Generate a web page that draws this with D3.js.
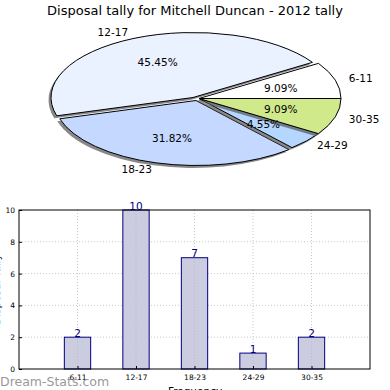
<!DOCTYPE html>
<html><head><meta charset="utf-8">
<script src="https://cdn.jsdelivr.net/npm/d3@7"></script>
<style>
body{margin:0;background:#fff;}
svg{display:block;font-family:"DejaVu Sans",sans-serif;}
</style></head>
<body><svg id="c" width="390" height="390"></svg>
<script>
const title = "Disposal tally for Mitchell Duncan - 2012 tally";
const categories = ["6-11","12-17","18-23","24-29","30-35"];
const tally = [2,10,7,1,2];
const sliceColors = ["#ffffff","#eaf1ff","#c5d8ff","#b5d6ff","#d0e98b"];
const yTicks = [0,2,4,6,8,10];

const svg = d3.select("#c");

// ---- Pie (elliptical, matplotlib style) ----
const P = {cx:199, cy:98.5, rx:142, ry:65};
const explode = [[0,0],[-6,-1],[-3,2],[0,0],[0,0]];
const shadow = [-2.5,2.5];
const total = d3.sum(tally);
const arcs = d3.pie().sort(null).startAngle(0).endAngle(2*Math.PI)(tally);

function wedge(a, dx, dy){
  const t1=a.startAngle, t2=a.endAngle;
  const cx=P.cx+dx, cy=P.cy+dy;
  const x1=cx+P.rx*Math.cos(t1), y1=cy-P.ry*Math.sin(t1);
  const x2=cx+P.rx*Math.cos(t2), y2=cy-P.ry*Math.sin(t2);
  const large=(t2-t1)>Math.PI?1:0;
  return `M${cx},${cy}L${x1},${y1}A${P.rx},${P.ry} 0 ${large} 0 ${x2},${y2}Z`;
}
const pg = svg.append("g");
arcs.forEach((a,i)=>{
  const [ex,ey]=explode[i];
  pg.append("path").attr("d",wedge(a,ex+shadow[0],ey+shadow[1]))
    .attr("fill","#555").attr("opacity",0.7);
  pg.append("path").attr("d",wedge(a,ex,ey))
    .attr("fill",sliceColors[i]).attr("stroke","#000").attr("stroke-width",1)
    .attr("stroke-linejoin","round");
});
arcs.forEach((a,i)=>{
  const [ex,ey]=explode[i];
  const m=(a.startAngle+a.endAngle)/2;
  const c=Math.cos(m), s=Math.sin(m);
  pg.append("text").attr("x",P.cx+ex+0.6*P.rx*c).attr("y",P.cy+ey-0.6*P.ry*s)
    .attr("text-anchor","middle").attr("dominant-baseline","central")
    .attr("font-size",10.5).attr("fill","#000")
    .text((100*tally[i]/total).toFixed(2)+"%");
  pg.append("text").attr("x",P.cx+ex+1.1*P.rx*c).attr("y",P.cy+ey-1.1*P.ry*s)
    .attr("text-anchor",c>0?"start":"end").attr("dominant-baseline","central")
    .attr("font-size",10.5).attr("fill","#000")
    .text(categories[i]);
});
svg.append("text").attr("x",195).attr("y",10).attr("text-anchor","middle")
  .attr("dominant-baseline","central").attr("font-size",13).text(title);

// ---- Bar chart ----
const B = {l:19, r:370, t:210, b:369};
const x = d3.scaleLinear().domain([0,6]).range([B.l,B.r]);
const y = d3.scaleLinear().domain([0,10]).range([B.b,B.t]);
const bw = 0.45;
const bg = svg.append("g");
// grid
bg.append("g").selectAll("line").data(yTicks.slice(1,-1)).join("line")
  .attr("x1",B.l).attr("x2",B.r).attr("y1",d=>y(d)).attr("y2",d=>y(d))
  .attr("stroke","#c8c8c8").attr("stroke-dasharray","1,2");
bg.append("g").selectAll("line").data(categories).join("line")
  .attr("x1",(d,i)=>x(i+1)).attr("x2",(d,i)=>x(i+1)).attr("y1",B.t).attr("y2",B.b)
  .attr("stroke","#c8c8c8").attr("stroke-dasharray","1,2");
// bars
bg.append("g").selectAll("rect").data(tally).join("rect")
  .attr("x",(d,i)=>x(i+1-bw/2)).attr("width",x(bw)-x(0))
  .attr("y",d=>y(d)).attr("height",d=>y(0)-y(d))
  .attr("fill","#cccce0").attr("stroke","#000080").attr("stroke-width",1);
// grid over bars (dotted visible through)
bg.append("g").selectAll("line").data(categories).join("line")
  .attr("x1",(d,i)=>x(i+1)).attr("x2",(d,i)=>x(i+1)).attr("y1",(d,i)=>y(tally[i])+1).attr("y2",B.b)
  .attr("stroke","#b8b8c8").attr("stroke-dasharray","1,2");
bg.selectAll("text.v").data(tally).join("text").attr("class","v")
  .attr("x",(d,i)=>x(i+1)).attr("y",d=>y(d)-0.5).attr("text-anchor","middle")
  .attr("font-size",10.5).attr("fill","#000080").text(d=>d);
// frame
bg.append("rect").attr("x",B.l).attr("y",B.t).attr("width",B.r-B.l).attr("height",B.b-B.t)
  .attr("fill","none").attr("stroke","#000").attr("stroke-width",1);
// axes
const ya = bg.append("g").attr("transform",`translate(${B.l},0)`)
  .call(d3.axisLeft(y).tickValues(yTicks).tickSize(-3).tickPadding(4));
ya.select(".domain").remove();
ya.selectAll("text").attr("font-size",7.5).attr("font-family","DejaVu Sans");
const xa = bg.append("g").attr("transform",`translate(0,${B.b})`)
  .call(d3.axisBottom(x).tickValues([1,2,3,4,5]).tickFormat(d=>categories[d-1]).tickSize(-3).tickPadding(6));
xa.select(".domain").remove();
xa.selectAll("text").attr("font-size",7.5).attr("font-family","DejaVu Sans");
svg.append("text").attr("x",195).attr("y",391).attr("text-anchor","middle")
  .attr("dominant-baseline","central").attr("font-size",10.5).text("Frequency");
svg.append("text").attr("transform",`translate(-4,${(B.t+B.b)/2}) rotate(-90)`)
  .attr("text-anchor","middle").attr("dominant-baseline","central")
  .attr("font-size",10.5).text("Disposal Tally");
svg.append("text").attr("x",0).attr("y",381).attr("dominant-baseline","central")
  .attr("font-size",12.5).attr("fill","#888").attr("opacity",0.85).text("Dream-Stats.com");
</script></body></html>
